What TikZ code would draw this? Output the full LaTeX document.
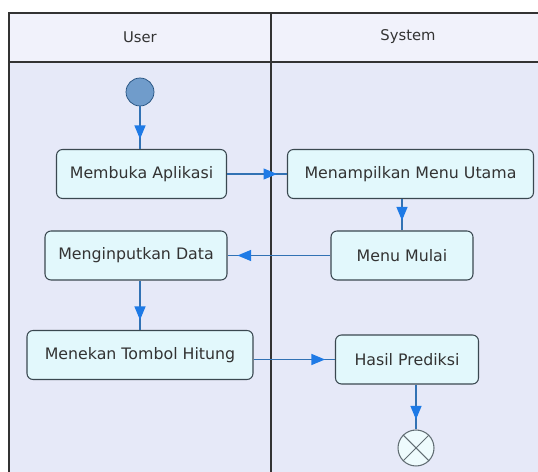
\documentclass[tikz,border=0pt]{standalone}
\usepackage{fontspec}
\setmainfont{DejaVu Sans}
\usepackage{xcolor}
\usetikzlibrary{arrows.meta, decorations.markings}

\definecolor{laneBg}{HTML}{E6E9F8}
\definecolor{headBg}{HTML}{F1F2FB}
\definecolor{actFill}{HTML}{E2F8FC}
\definecolor{actLine}{HTML}{3A4850}
\definecolor{flowLine}{HTML}{3272B4}
\definecolor{flowTip}{HTML}{1E7AE6}

\begin{document}
\begin{tikzpicture}[
  x=0.02cm, y=-0.02cm,
  action/.style={draw=actLine, fill=actFill, line width=0.6pt, rounded corners=0.12cm,
    minimum height=0.98cm, inner sep=2pt, text=black!80, font=\fontsize{9}{11}\selectfont},
  lanetitle/.style={text=black!80, font=\fontsize{8.4}{10}\selectfont},
  arrow/.style={draw=flowLine, line width=0.6pt, postaction={decorate},
    decoration={markings, mark=at position -0.2cm with {\arrow[flowTip]{Triangle[length=0.27cm, width=0.22cm]}}}}
]
  \useasboundingbox (0,0) rectangle (538,472);

  % swimlanes
  \fill[laneBg] (9,62) rectangle (545,480);
  \fill[headBg] (9,13) rectangle (545,62);
  \draw[line width=1pt, draw=black!80] (545,13) -- (9,13) -- (9,480);
  \draw[line width=1pt, draw=black!80] (9,62) -- (545,62);
  \draw[line width=1pt, draw=black!80] (271,13) -- (271,480);
  \node[lanetitle] (user) at (140,37) {User};
  \node[lanetitle] (system) at (408,37) {System};

  % start / end
  \node[circle, draw=flowLine!70!black, fill=flowLine!70!white, minimum size=0.56cm, inner sep=0pt] (start) at (140,92) {};
  \node[circle, draw=actLine!80, fill=actFill!60!white, line width=0.6pt, minimum size=0.72cm, inner sep=0pt] (final) at (416,448) {};
  \draw[actLine!80, line width=0.6pt] (final.45) -- (final.225) (final.135) -- (final.315);

  % actions
  \node[action, minimum width=3.4cm] (buka) at (141.5,174) {Membuka Aplikasi};
  \node[action, minimum width=4.92cm] (menu) at (410.5,174) {Menampilkan Menu Utama};
  \node[action, minimum width=2.84cm] (mulai) at (402,255.5) {Menu Mulai};
  \node[action, minimum width=3.64cm] (input) at (136,255.5) {Menginputkan Data};
  \node[action, minimum width=4.52cm] (hitung) at (140,355) {Menekan Tombol Hitung};
  \node[action, minimum width=2.86cm] (hasil) at (407,359.5) {Hasil Prediksi};

  % flows
  \draw[arrow] (start) -- (start |- buka.north);
  \draw[arrow] (buka) -- (menu);
  \draw[arrow] (mulai |- menu.south) -- (mulai);
  \draw[arrow] (mulai) -- (input);
  \draw[arrow] (input.south -| start) -- (hitung.north -| start);
  \draw[arrow] (hitung.east |- hasil) -- (hasil);
  \draw[arrow] (final |- hasil.south) -- (final);
\end{tikzpicture}
\end{document}
